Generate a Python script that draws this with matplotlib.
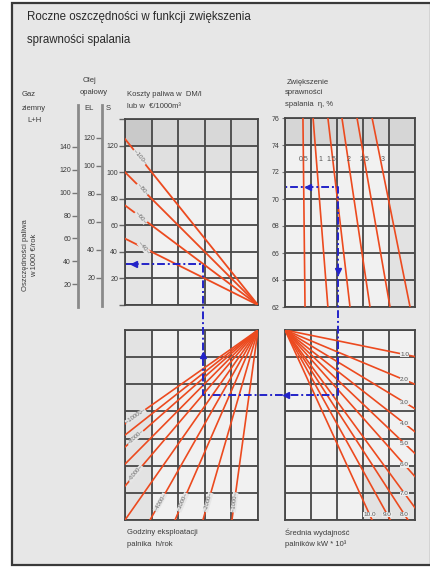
import math
import matplotlib
matplotlib.use('Agg')
import matplotlib.pyplot as plt
from matplotlib.patches import Rectangle
from matplotlib.lines import Line2D

plt.rcParams['font.family'] = ['Liberation Sans', 'DejaVu Sans']

# ---------------- data ----------------
gas_ticks = [20, 40, 60, 80, 100, 120, 140]          # Gaz ziemny L+H
el_ticks = [20, 40, 60, 80, 100, 120]                # Olej opałowy EL
s_ticks = [20, 40, 60, 80, 100, 120]                 # Olej opałowy S
eta_ticks = [62, 64, 66, 68, 70, 72, 74, 76]         # sprawność spalania

cost_labels = ['100', '80', '60', '40']              # koszty paliwa
cost_left_value = [125, 100, 75, 50]                 # S value where line meets left edge
cost_label_x = [0.55, 0.65, 0.6, 0.7]

eff_labels = ['0.5', '1', '1.5', '2', '2.5', '3']    # zwiększenie sprawności
eff_top_x = [0.69, 1.08, 1.65, 2.19, 2.77, 3.35]
eff_bot_x = [0.77, 1.65, 2.50, 3.27, 4.04, 4.81]
eff_label_x = [0.72, 1.35, 1.80, 2.45, 3.05, 3.75]

hours = [1000, 2000, 3000, 4000, 5000, 6000, 7000, 8000, 9000, 10000]
hours_end_x = [4.02, 2.93, 1.88, 0.94, 0.0, 0.0, 0.0, 0.0, 0.0, 0.0]
hours_end_y = [7.0, 7.0, 7.0, 7.0, 7.0, 5.75, 4.94, 4.31, 3.87, 3.46]
hours_labelled = [1000, 2000, 3000, 4000, 6000, 8000, 10000]

power_labels = ['1.0', '2.0', '3.0', '4.0', '5.0', '6.0', '7.0', '8.0', '9.0', '10.0']
power_end_x = [5.0, 5.0, 5.0, 5.0, 5.0, 5.0, 5.0, 4.73, 4.05, 3.35]
power_end_y = [0.98, 2.0, 2.9, 3.75, 4.55, 5.4, 6.55, 7.0, 7.0, 7.0]

# worked example (blue path)
ex_savings = 31
ex_cost_x = 2.93
ex_hours_y = 2.38
ex_power_x = 2.04
ex_eta = 70.9

# ---------------- figure ----------------
W, H = 431, 567
fig = plt.figure(figsize=(W / 100, H / 100), dpi=100)
fig.patch.set_facecolor('white')


def box(x0, y0, x1, y1):
    return [x0 / W, 1 - y1 / H, (x1 - x0) / W, (y1 - y0) / H]


def fx(px):
    return px / W


def fy(py):
    return 1 - py / H


fig.add_artist(Rectangle((fx(12), fy(565)), (W - 12) / W, (565 - 3) / H,
                         transform=fig.transFigure, fc='#e7e7e7', ec='#3a3a3a', lw=1.6, zorder=0))

TXT = '#3c3c3c'
GRID = '#474747'
RED = '#ec4a1f'
BLUE = '#2323c8'

fig.text(fx(27), fy(17), 'Roczne oszczędności w funkcji zwiększenia', fontsize=8.3, color='#2a2a2a', va='center')
fig.text(fx(27), fy(40), 'sprawności spalania', fontsize=8.3, color='#2a2a2a', va='center')


def quadrant(rect, ylim, yticks):
    ax = fig.add_axes(box(*rect))
    ax.set_facecolor('#f1f1f1')
    ax.set_xlim(0, 5)
    ax.set_ylim(*ylim)
    ax.set_xticks(range(6))
    ax.set_yticks(yticks)
    ax.grid(True, color=GRID, lw=1.3)
    ax.set_axisbelow(True)
    for s in ax.spines.values():
        s.set_color(GRID)
        s.set_linewidth(1.3)
    ax.tick_params(axis='x', length=0, labelbottom=False)
    return ax


# top-left: fuel costs
ax_tl = quadrant((125, 119, 258, 305), (0, 140), range(0, 141, 20))
ax_tl.set_yticklabels(['' if v not in s_ticks else str(v) for v in range(0, 141, 20)])
ax_tl.tick_params(axis='y', length=4, width=1, color='#666666', labelsize=5, labelcolor=TXT, pad=1)
ax_tl.add_patch(Rectangle((0, 100), 5, 40, fc='#e0e0e0', zorder=0))
ax_tl.add_patch(Rectangle((0, 120), 5, 20, fc='#d8d8d8', zorder=0))
ax_tl.add_patch(Rectangle((0, 0), 1, 120, fc='#e4e4e4', zorder=0))
ax_tl.add_patch(Rectangle((0, 120), 1, 20, fc='#c9c9c9', zorder=0))
for val, lab, lx in zip(cost_left_value, cost_labels, cost_label_x):
    ax_tl.plot([0, 5], [val, 0], color=RED, lw=1.3, zorder=3)
    ly = val * (1 - lx / 5)
    ax_tl.text(lx, ly, '–' + lab + '–', rotation=-50, fontsize=4.5, color='#666666',
               ha='center', va='center', rotation_mode='anchor', zorder=4,
               bbox=dict(fc='#e6e6e6', ec='none', pad=0.3))

# top-right: efficiency increase
ax_tr = quadrant((285, 118, 415, 307), (62, 76), eta_ticks)
ax_tr.set_yticklabels([str(v) for v in eta_ticks])
ax_tr.tick_params(axis='y', length=2, color='#777777', labelsize=5, labelcolor=TXT, pad=2)
ax_tr.add_patch(Rectangle((0, 74), 5, 2, fc='#d6d6d6', zorder=0))
ax_tr.add_patch(Rectangle((4, 62), 1, 12, fc='#e2e2e2', zorder=0))
for tx, bx, lab, lx in zip(eff_top_x, eff_bot_x, eff_labels, eff_label_x):
    ax_tr.plot([tx, bx], [76, 62], color=RED, lw=1.2, zorder=3)
    ax_tr.text(lx, 72.9, lab, fontsize=5, color='#555555', ha='center', va='center', zorder=4)

# bottom-left: operating hours
ax_bl = quadrant((125, 330, 258, 520), (7, 0), range(8))
ax_bl.tick_params(axis='y', length=0, labelleft=False)
ax_bl.add_patch(Rectangle((0, 0), 1, 7, fc='#e3e3e3', zorder=0))
for h, ex_, ey_ in zip(hours, hours_end_x, hours_end_y):
    ax_bl.plot([5, ex_], [0, ey_], color=RED, lw=1.2, zorder=3)
    if h in hours_labelled:
        if ey_ < 7:
            lx = 0.4
            ly = ey_ * (5 - lx) / 5
        else:
            ly = 6.35
            lx = 5 + (ex_ - 5) * ly / 7
        p0 = ax_bl.transData.transform((5, 0))
        p1 = ax_bl.transData.transform((ex_, ey_))
        ang = math.degrees(math.atan2(p0[1] - p1[1], p0[0] - p1[0]))
        ax_bl.text(lx, ly, '–' + str(h) + '–', rotation=ang, fontsize=4.2,
                   color='#666666', ha='center', va='center', rotation_mode='anchor', zorder=4,
                   bbox=dict(fc='#e6e6e6', ec='none', pad=0.2))

# bottom-right: burner output
ax_br = quadrant((285, 330, 415, 520), (7, 0), range(8))
ax_br.tick_params(axis='y', length=0, labelleft=False)
ax_br.add_patch(Rectangle((3, 5), 2, 2, fc='#e2e2e2', zorder=0))
for ex_, ey_, lab in zip(power_end_x, power_end_y, power_labels):
    ax_br.plot([0, ex_], [0, ey_], color=RED, lw=1.2, zorder=3)
    t = 0.92 if ex_ == 5 else 0.97
    ax_br.text(ex_ * t, ey_ * t, lab, fontsize=4.6, color='#555555', ha='center', va='center',
               zorder=4, bbox=dict(fc='#ececec', ec='none', pad=0.2))

# ---------------- left scales ----------------
ax_gas = fig.add_axes(box(78, 105, 78.5, 307))
ax_gas.set_ylim(0, (307 - 105) / 1.143)
ax_el = fig.add_axes(box(102, 105, 102.5, 306))
ax_el.set_ylim(0, (306 - 105) / 1.4)
for a, ticks in ((ax_gas, gas_ticks), (ax_el, el_ticks)):
    a.set_facecolor('none')
    a.set_xticks([])
    a.set_yticks(ticks)
    for k in ('top', 'bottom', 'right'):
        a.spines[k].set_visible(False)
    a.spines['left'].set_color('#8a8a8a')
    a.spines['left'].set_linewidth(2)
    a.tick_params(axis='y', length=4, width=1, color='#777777', labelsize=5, labelcolor=TXT, pad=1)

fig.text(fx(22), fy(95), 'Gaz', fontsize=5.5, color=TXT, va='center')
fig.text(fx(22), fy(108), 'ziemny', fontsize=5.5, color=TXT, va='center')
fig.text(fx(27), fy(120), 'L+H', fontsize=5.5, color=TXT, va='center')
fig.text(fx(83), fy(80), 'Olej', fontsize=5.5, color=TXT, va='center')
fig.text(fx(80), fy(93), 'opałowy', fontsize=5.5, color=TXT, va='center')
fig.text(fx(84), fy(108), 'EL', fontsize=5.5, color=TXT, va='center')
fig.text(fx(106), fy(108), 'S', fontsize=5.5, color=TXT, va='center')
fig.text(fx(127), fy(94), 'Koszty paliwa w  DM/l', fontsize=5.5, color=TXT, va='center')
fig.text(fx(127), fy(106), 'lub w  €/1000m³', fontsize=5.5, color=TXT, va='center')
fig.text(fx(287), fy(82), 'Zwiększenie', fontsize=5.5, color=TXT, va='center')
fig.text(fx(285), fy(93), 'sprawności', fontsize=5.5, color=TXT, va='center')
fig.text(fx(285), fy(105), 'spalania  η, %', fontsize=5.5, color=TXT, va='center')
fig.text(fx(30), fy(255), 'Oszczędności paliwa\nw 1000 €/rok', fontsize=5.5, color=TXT,
         rotation=90, ha='center', va='center', linespacing=1.3)
fig.text(fx(127), fy(533), 'Godziny eksploatacji', fontsize=5.5, color=TXT, va='center')
fig.text(fx(127), fy(544), 'palnika  h/rok', fontsize=5.5, color=TXT, va='center')
fig.text(fx(285), fy(533), 'Średnia wydajność', fontsize=5.5, color=TXT, va='center')
fig.text(fx(285), fy(544), 'palników kW * 10³', fontsize=5.5, color=TXT, va='center')

# ---------------- worked example path ----------------
inv = fig.transFigure.inverted()


def F(ax, x, y):
    return inv.transform(ax.transData.transform((x, y)))


pts = [F(ax_tl, 0.05, ex_savings), F(ax_tl, ex_cost_x, ex_savings), F(ax_bl, ex_cost_x, ex_hours_y),
       F(ax_br, ex_power_x, ex_hours_y), F(ax_tr, ex_power_x, ex_eta), F(ax_tr, 0.05, ex_eta)]
fig.add_artist(Line2D([p[0] for p in pts], [p[1] for p in pts], transform=fig.transFigure,
                      color=BLUE, lw=1.4, ls=(0, (4, 1.5, 1, 1.5)), zorder=10))
arrows = [(ax_tl, 0.35, ex_savings, '<'), (ax_bl, ex_cost_x, 0.92, '^'),
          (ax_br, 0.05, ex_hours_y, '<'), (ax_tr, ex_power_x, 64.7, 'v'), (ax_tr, 0.88, ex_eta, '<')]
for a, x, y, m in arrows:
    p = F(a, x, y)
    fig.add_artist(Line2D([p[0]], [p[1]], transform=fig.transFigure, marker=m, ms=4.5,
                          color=BLUE, mec=BLUE, zorder=11))

fig.savefig('out.png', dpi=100)
